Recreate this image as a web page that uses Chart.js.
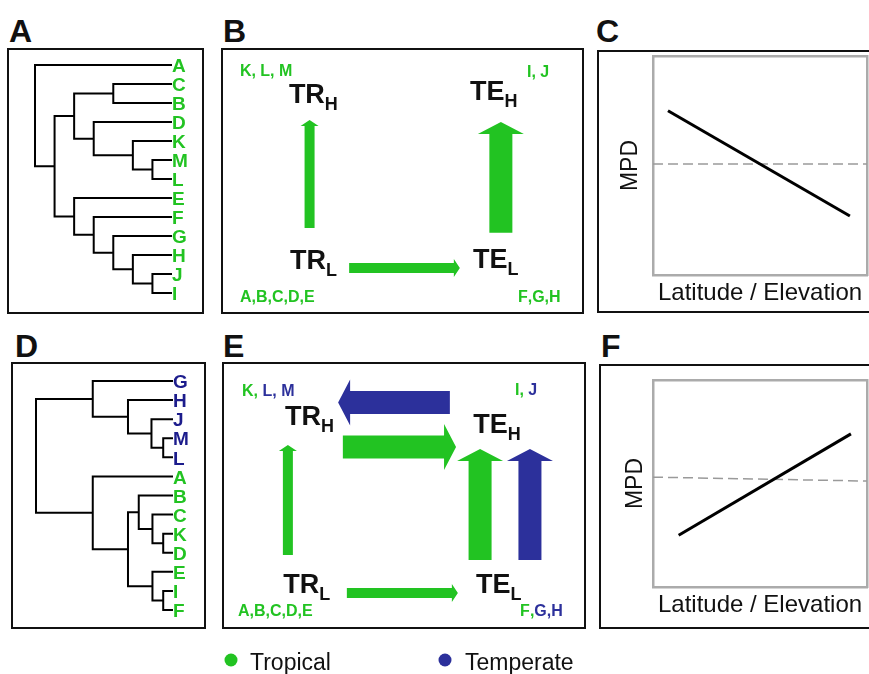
<!DOCTYPE html>
<html><head><meta charset="utf-8">
<script src="https://cdn.jsdelivr.net/npm/chart.js@4.4.1/dist/chart.umd.min.js"></script>
<style>
html,body{margin:0;padding:0;background:#fff;overflow:hidden;}
#page{position:relative;width:869px;height:674px;overflow:hidden;background:#fff;}
canvas{position:absolute;}
.lab{position:absolute;font-family:"Liberation Sans",Arial,Helvetica,sans-serif;font-weight:bold;font-size:32px;line-height:32px;color:#111;}
</style></head><body>
<div id="page">
<div class="lab" style="left:9px;top:15px">A</div>
<div class="lab" style="left:223px;top:15px">B</div>
<div class="lab" style="left:596px;top:15px">C</div>
<div class="lab" style="left:15px;top:330px">D</div>
<div class="lab" style="left:223px;top:330px">E</div>
<div class="lab" style="left:601px;top:330px">F</div>
<canvas id="cA" width="197" height="266" style="left:7px;top:48px"></canvas>
<canvas id="cB" width="363" height="266" style="left:221px;top:48px"></canvas>
<canvas id="cC" width="300" height="263" style="left:597px;top:50px"></canvas>
<canvas id="cD" width="195" height="267" style="left:11px;top:362px"></canvas>
<canvas id="cE" width="364" height="312" style="left:222px;top:362px"></canvas>
<canvas id="cF" width="300" height="265" style="left:599px;top:364px"></canvas>
</div>
<script>
// ---------------- DATA ----------------
// Trees: [nodeDepth, upperChild, lowerChild]; tips are taxon names
const treeA = [0,'A',[1,[2,[4,'C','B'],[3,'D',[5,'K',[6,'M','L']]]],[2,'E',[3,'F',[4,'G',[5,'H',[6,'J','I']]]]]]];
const treeD = [0,[2.9,'G',[4.7,'H',[5.9,'J',[6.5,'M','L']]]],[2.9,'A',[4.7,[5.25,'B',[5.95,'C',[6.5,'K','D']]],[5.95,'E',[6.5,'I','F']]]]];
const tipDepth = 7;
const temperateTaxa = ['G','H','J','M','L'];

// Diagram states (TR_L, TR_H, TE_L, TE_H)
const stateMain = ['TR','TR','TE','TE'];
const stateSub  = ['L','H','L','H'];
const stateXB = [1.90,1.87,6.94,6.86], stateYB = [1.69,7.93,1.73,8.05];
const stateXE = [1.68,1.73,6.98,6.90], stateYE = [1.35,7.64,1.35,7.34];
// Taxa lists per state
const taxaLists = ['A,B,C,D,E','K, L, M','F,G,H','I, J'];
const taxaXB = [0.52,0.52,8.18,8.43], taxaYB = [0.45,8.95,0.45,8.91];
const taxaXE = [0.44,0.55,8.19,8.05], taxaYE = [0.49,8.73,0.49,8.76];
// Transitions (arrows): from -> to, rate level, lineage
const arrFromXB = [2.44,7.71,3.53], arrFromYB = [3.23,3.05,1.73];
const arrToXB   = [2.44,7.71,6.58], arrToYB   = [7.29,7.22,1.73];
const arrRateB  = [1,2,1], arrLinB = ['trop','trop','trop'];
const arrFromXE = [6.26,3.32,1.81,7.09,8.46,3.43], arrFromYE = [8.48,6.82,2.77,2.58,2.58,1.35];
const arrToXE   = [3.19,6.43,1.81,7.09,8.46,6.48], arrToYE   = [8.48,6.82,6.89,6.74,6.74,1.35];
const arrRateE  = [2,2,1,2,2,1], arrLinE = ['temp','trop','trop','trop','temp','trop'];
// MPD vs latitude/elevation
const mpdXC = [0.07,0.92], mpdYC = [0.75,0.27];
const nullXC = [0,1], nullYC = [0.507,0.507];
const mpdXF = [0.12,0.925], mpdYF = [0.25,0.74];
const nullXF = [0,1], nullYF = [0.531,0.512];
const xTitle = 'Latitude / Elevation', yTitle = 'MPD';
const legendLabels = ['Tropical','Temperate'];

// ---------------- STYLE ----------------
const family = '"Liberation Sans", Arial, Helvetica, sans-serif';
Chart.defaults.font.family = family;
const GREEN = '#22c322', BLUE = '#2c309b', NAVY = '#1c1c8c', GRAY = '#ababab';
const arrowStyle = {1:{w:10,hw:18,hl:6}, 2:{w:23,hw:46,hl:12}};

function makeFrame(h){
  return {id:'frame', afterDraw(c){
    const ctx=c.ctx; ctx.save(); ctx.strokeStyle='#111'; ctx.lineWidth=2;
    ctx.strokeRect(1,1,c.width-2,(h||c.height)-2); ctx.restore();
  }};
}
const baseOpts = {responsive:false, animation:false, events:[],
  plugins:{legend:{display:false}, tooltip:{enabled:false}}};

function layoutTree(tree){
  const segs=[], tips=[];
  (function walk(n){
    if (typeof n === 'string'){ const y=tips.length; tips.push(n); return {h:tipDepth,y}; }
    const a=walk(n[1]), b=walk(n[2]);
    segs.push([{x:a.h,y:a.y},{x:n[0],y:a.y},{x:n[0],y:b.y},{x:b.h,y:b.y}]);
    return {h:n[0], y:(a.y+b.y)/2};
  })(tree);
  return {segs, tips};
}

function dendro(id, tree, colorOf, pad){
  const {segs,tips} = layoutTree(tree);
  new Chart(document.getElementById(id), {
    type:'scatter',
    data:{datasets: segs.map(s=>({data:s, showLine:true, borderColor:'#000', borderWidth:2,
      pointRadius:0, borderJoinStyle:'miter', borderCapStyle:'butt', tension:0, clip:false}))},
    options:Object.assign({}, baseOpts, {layout:{padding:pad},
      scales:{x:{type:'linear',min:0,max:tipDepth,display:false},
              y:{type:'linear',min:0,max:tips.length-1,reverse:true,display:false}}}),
    plugins:[makeFrame(), {id:'tips', afterDatasetsDraw(c){
      const ctx=c.ctx, xs=c.scales.x, ys=c.scales.y;
      ctx.save(); ctx.font='bold 19px '+family; ctx.textBaseline='middle'; ctx.textAlign='left';
      tips.forEach((t,i)=>{ ctx.fillStyle=colorOf(t);
        ctx.fillText(t, xs.getPixelForValue(tipDepth), ys.getPixelForValue(i)+2); });
      ctx.restore();
    }}]
  });
}
dendro('cA', treeA, ()=>GREEN, {left:28,right:32,top:17,bottom:21});
dendro('cD', treeD, t=>temperateTaxa.includes(t)?NAVY:GREEN, {left:25,right:33,top:19,bottom:19});

function drawArrow(ctx,x1,y1,x2,y2,st,color){
  const dx=x2-x1, dy=y2-y1, L=Math.hypot(dx,dy), ux=dx/L, uy=dy/L, nx=-uy, ny=ux;
  const bx=x2-ux*st.hl, by=y2-uy*st.hl, w=st.w/2, hw=st.hw/2;
  ctx.beginPath();
  ctx.moveTo(x1+nx*w,y1+ny*w); ctx.lineTo(bx+nx*w,by+ny*w); ctx.lineTo(bx+nx*hw,by+ny*hw);
  ctx.lineTo(x2,y2);
  ctx.lineTo(bx-nx*hw,by-ny*hw); ctx.lineTo(bx-nx*w,by-ny*w); ctx.lineTo(x1-nx*w,y1-ny*w);
  ctx.closePath(); ctx.fillStyle=color; ctx.fill();
}

function diagram(id, d){
  new Chart(document.getElementById(id), {
    type:'scatter', data:{datasets:[]},
    options:Object.assign({}, baseOpts, {layout:{padding:{bottom:d.padBottom||0}},
      scales:{x:{type:'linear',min:0,max:10,display:false},y:{type:'linear',min:0,max:10,display:false}}}),
    plugins:[makeFrame(d.frameH), {id:'diagram', afterDatasetsDraw(c){
      const ctx=c.ctx, xs=c.scales.x, ys=c.scales.y, X=v=>xs.getPixelForValue(v), Y=v=>ys.getPixelForValue(v);
      ctx.save();
      d.fromX.forEach((_,i)=>drawArrow(ctx, X(d.fromX[i]),Y(d.fromY[i]),X(d.toX[i]),Y(d.toY[i]),
        arrowStyle[d.rate[i]], d.lin[i]==='temp'?BLUE:GREEN));
      ctx.textBaseline='alphabetic'; ctx.textAlign='left'; ctx.fillStyle='#111';
      stateMain.forEach((s,i)=>{
        const x=X(d.sx[i]), y=Y(d.sy[i]);
        ctx.font='bold 27px '+family; ctx.fillText(s,x,y);
        const w=ctx.measureText(s).width;
        ctx.font='bold 18px '+family; ctx.fillText(stateSub[i], x+w, y+7);
      });
      ctx.font='bold 16px '+family;
      taxaLists.forEach((t,i)=>{
        let cx=X(d.tx[i]); const y=Y(d.ty[i]); let col=GREEN;
        for (const ch of t){ if (/[A-Z]/.test(ch)) col=d.colorOf(ch);
          ctx.fillStyle=col; ctx.fillText(ch,cx,y); cx+=ctx.measureText(ch).width; }
      });
      if (d.legend){
        const base=c.chartArea.bottom;
        const dotX=[9,223], txtX=[28,243], cols=[GREEN,BLUE];
        ctx.font='23px '+family;
        legendLabels.forEach((l,i)=>{
          ctx.beginPath(); ctx.arc(dotX[i], base+31, 6.5, 0, Math.PI*2); ctx.fillStyle=cols[i]; ctx.fill();
          ctx.fillStyle='#111'; ctx.fillText(l, txtX[i], base+41);
        });
      }
      ctx.restore();
    }}]
  });
}
diagram('cB', {sx:stateXB, sy:stateYB, tx:taxaXB, ty:taxaYB, fromX:arrFromXB, fromY:arrFromYB,
  toX:arrToXB, toY:arrToYB, rate:arrRateB, lin:arrLinB, colorOf:()=>GREEN});
diagram('cE', {sx:stateXE, sy:stateYE, tx:taxaXE, ty:taxaYE, fromX:arrFromXE, fromY:arrFromYE,
  toX:arrToXE, toY:arrToYE, rate:arrRateE, lin:arrLinE, colorOf:t=>temperateTaxa.includes(t)?BLUE:GREEN,
  padBottom:45, frameH:267, legend:true});

function mpd(id, lx, ly, nx, ny, pad, yPadB){
  const edge = {ticks:{display:false}, grid:{display:false, drawTicks:false}, border:{display:true,color:GRAY,width:2.5}};
  new Chart(document.getElementById(id), {
    type:'scatter',
    data:{datasets:[
      {data:lx.map((x,i)=>({x,y:ly[i]})), showLine:true, borderColor:'#000', borderWidth:3, pointRadius:0, borderCapStyle:'butt'},
      {data:nx.map((x,i)=>({x,y:ny[i]})), showLine:true, borderColor:'#9a9a9a', borderWidth:1.5, borderDash:[10,5], pointRadius:0}
    ]},
    options:Object.assign({}, baseOpts, {layout:{padding:pad},
      scales:{
        x:Object.assign({type:'linear',position:'bottom',min:0,max:1,
          title:{display:true,text:xTitle,color:'#111',font:{size:24,family},padding:{top:4,bottom:4}}}, edge),
        x2:Object.assign({type:'linear',position:'top',min:0,max:1}, edge),
        y:Object.assign({type:'linear',position:'left',min:0,max:1,
          title:{display:true,text:yTitle,color:'#111',font:{size:23,family},padding:{top:4,bottom:yPadB}}}, edge),
        y2:Object.assign({type:'linear',position:'right',min:0,max:1}, edge)
      }}),
    plugins:[makeFrame()]
  });
}
mpd('cC', mpdXC, mpdYC, nullXC, nullYC, {left:16.2,right:30,top:6,bottom:1.1}, 8.2);
mpd('cF', mpdXF, mpdYF, nullXF, nullYF, {left:19.2,right:32,top:16,bottom:5.1}, 3.2);
</script>
</body></html>
